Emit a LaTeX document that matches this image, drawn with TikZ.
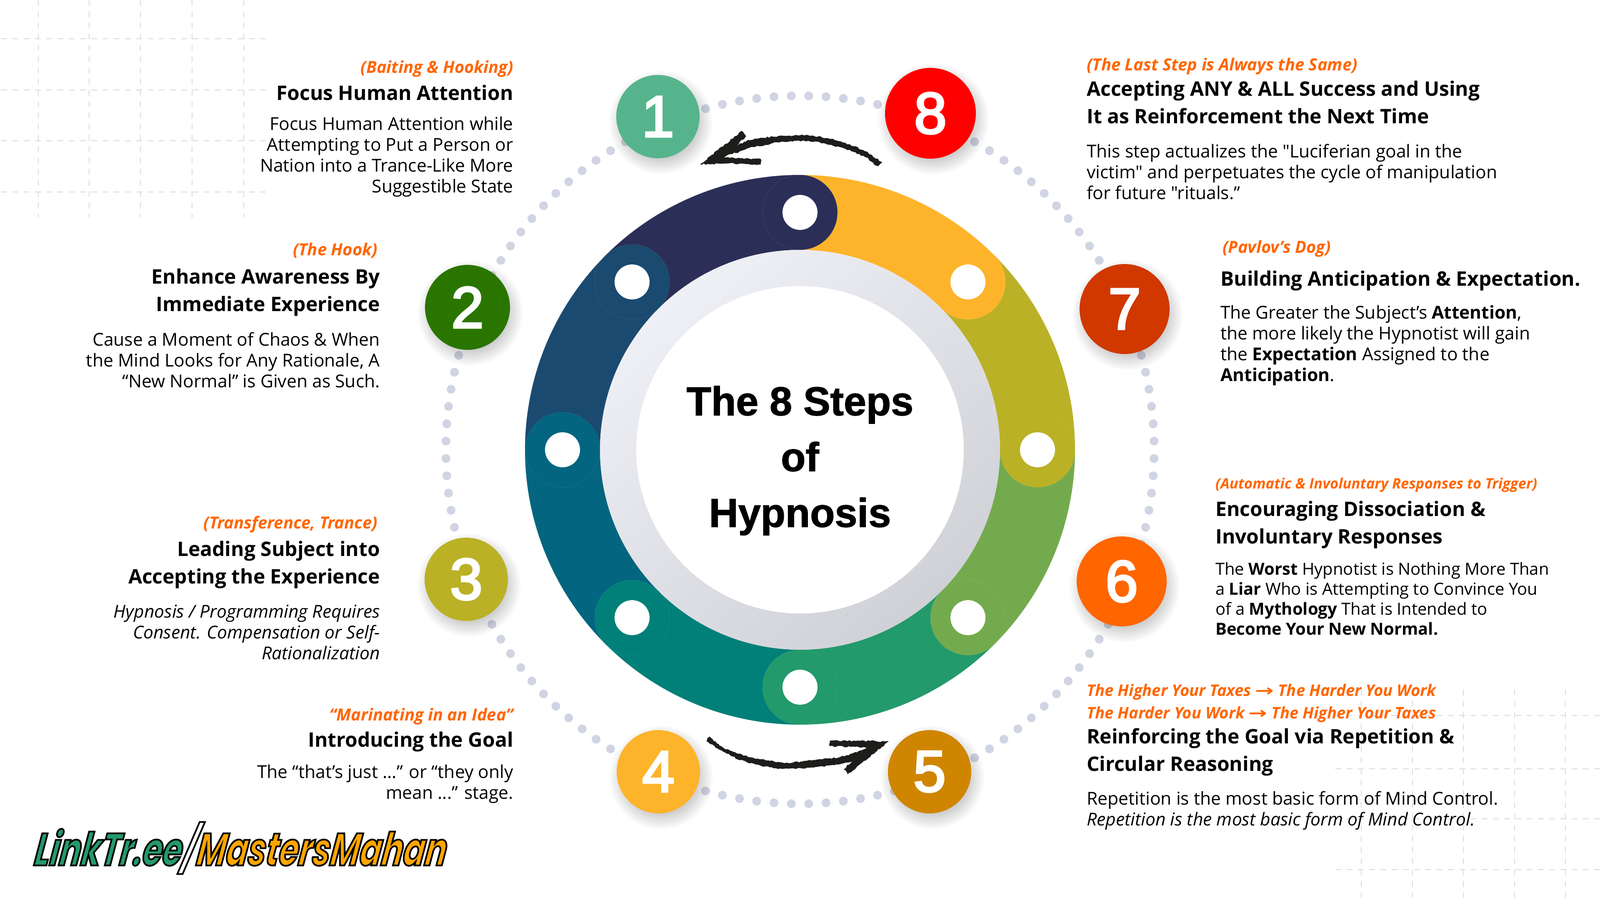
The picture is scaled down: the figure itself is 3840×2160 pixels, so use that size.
\documentclass[tikz,border=0pt]{standalone}
\usepackage{fontspec}
\usepackage{graphicx}
\setmainfont{Open Sans}[Ligatures=TeXOff]
\newfontfamily\titlef[FakeBold=1.5]{Liberation Sans}
\newfontfamily\numf[FakeBold=3.5]{Liberation Sans}
\newfontfamily\arrowf{DejaVu Sans}
\newfontfamily\logof[FakeStretch=0.7,FakeSlant=0.14]{Poppins}
\usetikzlibrary{decorations.pathmorphing}
\definecolor{cnavy}{HTML}{2B2F58}\definecolor{cblue}{HTML}{1B4A70}\definecolor{cteb}{HTML}{03657F}
\definecolor{cteal}{HTML}{008078}\definecolor{cgreen}{HTML}{239A6B}\definecolor{clgreen}{HTML}{74AA4E}
\definecolor{colive}{HTML}{BBB126}\definecolor{cyel}{HTML}{FDB42B}\definecolor{cmint}{HTML}{56B48C}
\definecolor{cdkgr}{HTML}{2A7500}\definecolor{cbrown}{HTML}{CF8500}\definecolor{corange}{HTML}{FF6600}
\definecolor{crust}{HTML}{D03800}\definecolor{cred}{HTML}{FF0000}\definecolor{cdot}{HTML}{D0D4E3}
\definecolor{cgrid}{HTML}{D9D9E5}\definecolor{cbrush}{HTML}{1D1D1B}\definecolor{clogoO}{HTML}{FFA500}
\definecolor{cshadeA}{HTML}{EFF0F5}\definecolor{cshadeB}{HTML}{CFD1D6}
\newcommand\fsize[2]{\fontsize{#1}{#2}\selectfont}
\tikzset{
 lblR/.style={anchor=north east,align=right,inner sep=0pt,execute at begin node=\strut},
 lblL/.style={anchor=north west,align=left,inner sep=0pt,execute at begin node=\strut},
 tagfont/.style={font=\fsize{40}{54}\bfseries\itshape\color{corange}},
 headfont/.style={font=\fsize{48}{66}\bfseries},
 bodyfont/.style={font=\fsize{42.6}{50}},
 numc/.style={circle,inner sep=0pt,text=white,font=\numf\fsize{140}{140}},
 griddash/.style={draw=cgrid,line width=2.5pt,dash pattern=on 14pt off 13pt},
 rough/.style={fill=cbrush,decorate,decoration={random steps,segment length=5pt,amplitude=1.7pt}},
}
\newcommand\softshadow[3]{\foreach \k in {0,...,11}{\fill[black,opacity=0.018] (#1+7,#2+14) circle ({#3+24-4*\k});}}
\begin{document}
\begin{tikzpicture}[x=1pt,y=-1pt]
\useasboundingbox (0,0) rectangle (3840,2160);
\fill[white] (0,0) rectangle (3840,2160);
% grids
\foreach \gx in {92,214,337,461,585}{\draw[griddash] (\gx,0) -- (\gx,523);}
\foreach \gy in {93,216,338,461}{\draw[griddash] (3,\gy) -- (647,\gy);}
\foreach \gx in {3267,3390,3512,3635,3757}{\draw[griddash] (\gx,1656) -- (\gx,2160);}
\foreach \gy in {1718,1846,1966,2088}{\draw[griddash] (3205,\gy) -- (3840,\gy);}
% ring and dots
\begin{scope}[shift={(1920,1080)},y=1pt]
\foreach \a in {0,...,127}{\fill[cdot] ({\a*2.8125+1.40625}:850) circle (10.5);}
\foreach \aa/\ab/\cc in {90/45/cyel,45/0/colive,0/-45/clgreen,-45/-90/cgreen,-90/-135/cteal,-135/-180/cteb,180/135/cblue,135/90/cnavy}{
  \fill[\cc] (\aa:660) arc[start angle=\aa,end angle=\ab,radius=660] -- (\ab:480) arc[start angle=\ab,end angle=\aa,radius=480] -- cycle;
}
\shade[top color=cshadeA,bottom color=cshadeB,shading angle=40] (0,0) circle (480);
\fill[white] (0,0) circle (393);
\foreach \aa/\cc in {45/cyel,0/colive,-45/clgreen,-90/cgreen,-135/cteal,180/cteb,135/cblue,90/cnavy}{
  \fill[\cc] (\aa:570) circle (90);
  \draw[white,opacity=0.08,line width=1pt] (\aa:570) circle (90);
  \fill[white] (\aa:570) circle (42);
}
\end{scope}
% brush arrows
\begin{scope}[shift={(1400,120)},x=0.7015pt,y=-0.3333pt]
\fill[rough] plot[smooth cycle] coordinates {(1017,805)(962,728)(882,660)(770,615)(650,625)(570,650)(525,690)(520,740)(560,710)(620,685)(680,660)(770,655)(850,685)(918,730)(968,775)(1003,832)};
\fill[rough] (400,823) -- (543,583) -- (557,620) -- (522,695) -- (520,735) -- (480,775) -- (607,785) -- (607,825) -- (490,818) -- cycle;
\end{scope}
\begin{scope}[shift={(1400,1700)},x=0.7015pt,y=-0.3333pt]
\fill[rough] plot[smooth cycle] coordinates {(435,215)(480,288)(560,347)(680,392)(780,378)(880,352)(930,320)(930,368)(880,403)(780,428)(680,438)(570,398)(490,328)(430,250)};
\fill[rough] (1045,240) -- (843,235) -- (843,275) -- (975,283) -- (930,325) -- (930,365) -- (890,440) -- (905,478) -- cycle;
\end{scope}
% number circles
\softshadow{1579}{280}{100}\softshadow{1122}{738}{102}\softshadow{1119}{1391}{100}\softshadow{1580}{1853}{100}
\softshadow{2231}{1853}{100}\softshadow{2692}{1396}{108}\softshadow{2699}{742}{108}\softshadow{2233}{272}{109}
\node[numc,fill=cmint,minimum size=200pt] (n1) at (1579,280) {1};
\node[numc,fill=cdkgr,minimum size=204pt] (n2) at (1122,738) {2};
\node[numc,fill=colive,minimum size=200pt] (n3) at (1119,1391) {3};
\node[numc,fill=cyel,minimum size=200pt] (n4) at (1580,1853) {4};
\node[numc,fill=cbrown,minimum size=200pt] (n5) at (2231,1853) {5};
\node[numc,fill=corange,minimum size=216pt] (n6) at (2692,1396) {6};
\node[numc,fill=crust,minimum size=216pt] (n7) at (2699,742) {7};
\node[numc,fill=cred,minimum size=218pt] (n8) at (2233,272) {8};
% title
\node[inner sep=0pt,align=center,font=\titlef\fsize{97}{134}] (title) at (1920,1106) {\textbf{The 8 Steps}\\\textbf{of}\\\textbf{Hypnosis}};
% block 1
\node[lblR,tagfont] (t1) at (1232,137) {(Baiting \& Hooking)};
\node[lblR,headfont] (h1) at (1232,194) {Focus Human Attention};
\node[lblR,bodyfont] (b1) at (1232,280) {Focus Human Attention while\\Attempting to Put a Person or\\Nation into a Trance-Like More\\Suggestible State};
% block 2
\node[lblR,tagfont] (t2) at (906,575) {(The Hook)};
\node[lblR,headfont] (h2) at (912,645) {Enhance Awareness By\\Immediate Experience};
\node[lblR,bodyfont] (b2) at (912,798) {Cause a Moment of Chaos \& When\\the Mind Looks for Any Rationale, A\\“New Normal” is Given as Such.};
% block 3
\node[lblR,tagfont] (t3) at (906,1231) {(Transference, Trance)};
\node[lblR,headfont] (h3) at (912,1299) {Leading Subject into\\Accepting the Experience};
\node[lblR,bodyfont,font=\fsize{42.6}{50}\itshape] (b3) at (912,1452) {Hypnosis / Programming Requires\\Consent. Compensation or Self-\\Rationalization};
% block 4
\node[lblR,tagfont] (t4) at (1232,1692) {“Marinating in an Idea”};
\node[lblR,headfont] (h4) at (1232,1747) {Introducing the Goal};
\node[lblR,bodyfont] (b4) at (1232,1836) {The “that’s just ...” or “they only\\mean ...” stage.};
% block 8
\node[lblL,tagfont] (t8) at (2608,131) {(The Last Step is Always the Same)};
\node[lblL,headfont] (h8) at (2608,194) {Accepting ANY \& ALL Success and Using\\It as Reinforcement the Next Time};
\node[lblL,bodyfont] (b8) at (2608,346) {This step actualizes the "Luciferian goal in the\\victim" and perpetuates the cycle of manipulation\\for future "rituals.”};
% block 7
\node[lblL,tagfont] (t7) at (2934,569) {(Pavlov’s Dog)};
\node[lblL,headfont] (h7) at (2929,640) {Building Anticipation \& Expectation.};
\node[lblL,bodyfont] (b7) at (2929,733) {The Greater the Subject’s \textbf{Attention},\\the more likely the Hypnotist will gain\\the \textbf{Expectation} Assigned to the\\\textbf{Anticipation}.};
% block 6
\node[lblL,tagfont,font=\fsize{34.7}{50}\bfseries\itshape\color{corange}] (t6) at (2917,1138) {(Automatic \& Involuntary Responses to Trigger)};
\node[lblL,headfont] (h6) at (2917,1203) {Encouraging Dissociation \&\\Involuntary Responses};
\node[lblL,bodyfont,font=\fsize{40}{48}] (b6) at (2917,1350) {The \textbf{Worst} Hypnotist is Nothing More Than\\a \textbf{Liar} Who is Attempting to Convince You\\of a \textbf{Mythology} That is Intended to\\\textbf{Become Your New Normal.}};
% block 5
\node[lblL,tagfont,font=\fsize{38.3}{54}\bfseries\itshape\color{corange}] (t5) at (2608,1642) {The Higher Your Taxes {\arrowf\scalebox{1.4}[1]{→}} The Harder You Work\\The Harder You Work {\arrowf\scalebox{1.4}[1]{→}} The Higher Your Taxes};
\node[lblL,headfont] (h5) at (2608,1749) {Reinforcing the Goal via Repetition \&\\Circular Reasoning};
\node[lblL,bodyfont] (b5) at (2608,1900) {Repetition is the most basic form of Mind Control.\\\textit{Repetition is the most basic form of Mind Control.}};
% logo
\node[anchor=base west,inner sep=0pt,font=\logof\bfseries\itshape\fsize{110}{110}] (logo) at (80,2078) {\special{pdf:code 2 Tr 4 w}\textcolor{cgreen}{\special{pdf:code 0 0 0 RG}LinkTr.ee}\textcolor{white}{\special{pdf:code 0 0 0 RG}/}\textcolor{clogoO}{\special{pdf:code 0 0 0 RG}MastersMahan}\special{pdf:code 0 Tr}};
\end{tikzpicture}
\end{document}
